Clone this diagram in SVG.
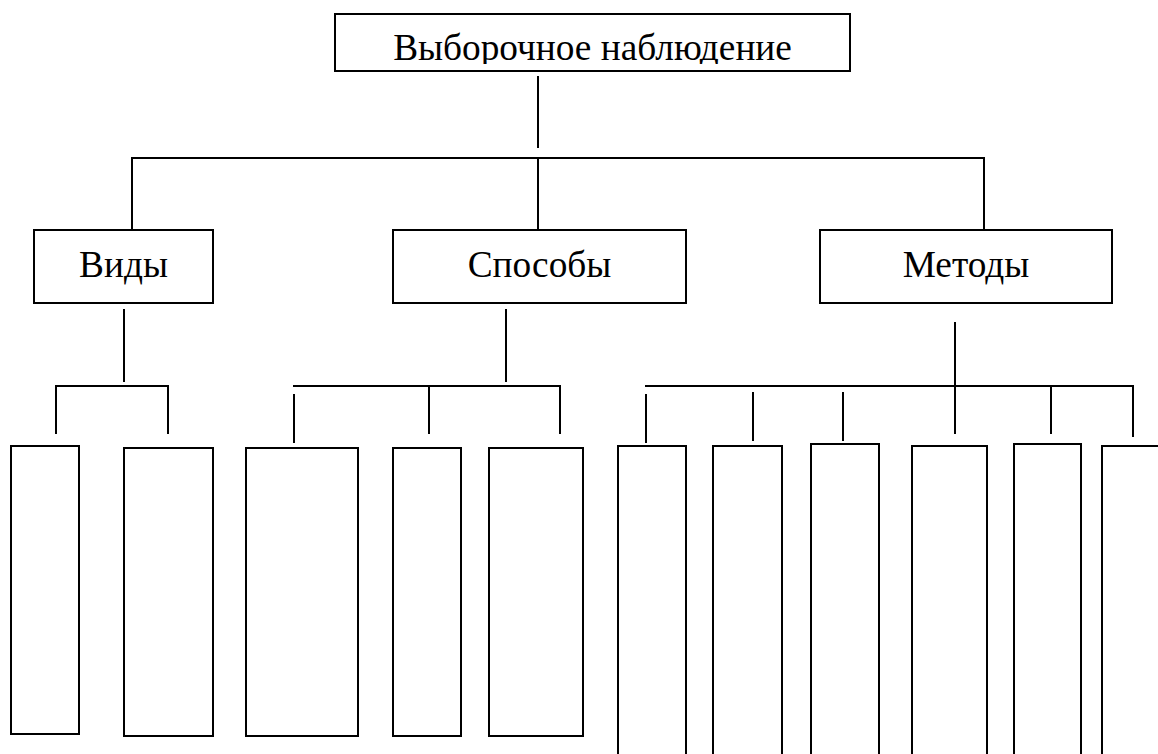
<svg xmlns="http://www.w3.org/2000/svg" width="1158" height="754" viewBox="0 0 1158 754">
  <style>
    .box { fill: #ffffff; stroke: #000000; stroke-width: 2; }
    .ln { stroke: #000000; stroke-width: 2; fill: none; }
    .lbl { font-family: "Liberation Serif", "Times New Roman", serif; font-size: 37.3px; fill: #000000; text-anchor: middle; }
  </style>
  <defs>
    <clipPath id="clipTop">
      <rect x="335" y="15" width="515" height="49"/>
    </clipPath>
  </defs>
  <rect width="1158" height="754" fill="#ffffff"/>

  <g id="connectors">
    <line class="ln" x1="538" y1="76" x2="538" y2="148"/>
    <line class="ln" x1="131" y1="158" x2="985" y2="158"/>
    <line class="ln" x1="132" y1="158" x2="132" y2="230"/>
    <line class="ln" x1="538" y1="158" x2="538" y2="230"/>
    <line class="ln" x1="984" y1="158" x2="984" y2="230"/>

    <line class="ln" x1="124" y1="309" x2="124" y2="382"/>
    <line class="ln" x1="55" y1="386" x2="169" y2="386"/>
    <line class="ln" x1="56" y1="386" x2="56" y2="434"/>
    <line class="ln" x1="168" y1="386" x2="168" y2="434"/>

    <line class="ln" x1="506" y1="309" x2="506" y2="382"/>
    <line class="ln" x1="293" y1="386" x2="561" y2="386"/>
    <line class="ln" x1="294" y1="394" x2="294" y2="443"/>
    <line class="ln" x1="429" y1="386" x2="429" y2="434"/>
    <line class="ln" x1="560" y1="386" x2="560" y2="434"/>

    <line class="ln" x1="955" y1="322" x2="955" y2="434"/>
    <line class="ln" x1="645" y1="386" x2="1134" y2="386"/>
    <line class="ln" x1="646" y1="394" x2="646" y2="443"/>
    <line class="ln" x1="753" y1="392" x2="753" y2="441"/>
    <line class="ln" x1="843" y1="392" x2="843" y2="441"/>
    <line class="ln" x1="1051" y1="386" x2="1051" y2="434"/>
    <line class="ln" x1="1133" y1="386" x2="1133" y2="437"/>
  </g>

  <g id="node-root">
    <rect class="box" x="335" y="14" width="515" height="57"/>
    <text class="lbl" x="592.5" y="60" clip-path="url(#clipTop)">Выборочное наблюдение</text>
  </g>

  <g id="node-vidy">
    <rect class="box" x="34" y="230" width="179" height="73"/>
    <text class="lbl" x="123.5" y="277">Виды</text>
  </g>
  <g id="node-sposoby">
    <rect class="box" x="393" y="230" width="293" height="73"/>
    <text class="lbl" x="539.5" y="277">Способы</text>
  </g>
  <g id="node-metody">
    <rect class="box" x="820" y="230" width="292" height="73"/>
    <text class="lbl" x="966" y="277">Методы</text>
  </g>

  <g id="node-v1"><rect class="box" x="11" y="446" width="68" height="288"/></g>
  <g id="node-v2"><rect class="box" x="124" y="448" width="89" height="288"/></g>
  <g id="node-s1"><rect class="box" x="246" y="448" width="112" height="288"/></g>
  <g id="node-s2"><rect class="box" x="393" y="448" width="68" height="288"/></g>
  <g id="node-s3"><rect class="box" x="489" y="448" width="94" height="288"/></g>
  <g id="node-m1"><rect class="box" x="618" y="446" width="68" height="320"/></g>
  <g id="node-m2"><rect class="box" x="713" y="446" width="69" height="320"/></g>
  <g id="node-m3"><rect class="box" x="811" y="444" width="68" height="322"/></g>
  <g id="node-m4"><rect class="box" x="912" y="446" width="75" height="320"/></g>
  <g id="node-m5"><rect class="box" x="1014" y="444" width="67" height="322"/></g>
  <g id="node-m6"><rect class="box" x="1102" y="446" width="70" height="320"/></g>
</svg>
